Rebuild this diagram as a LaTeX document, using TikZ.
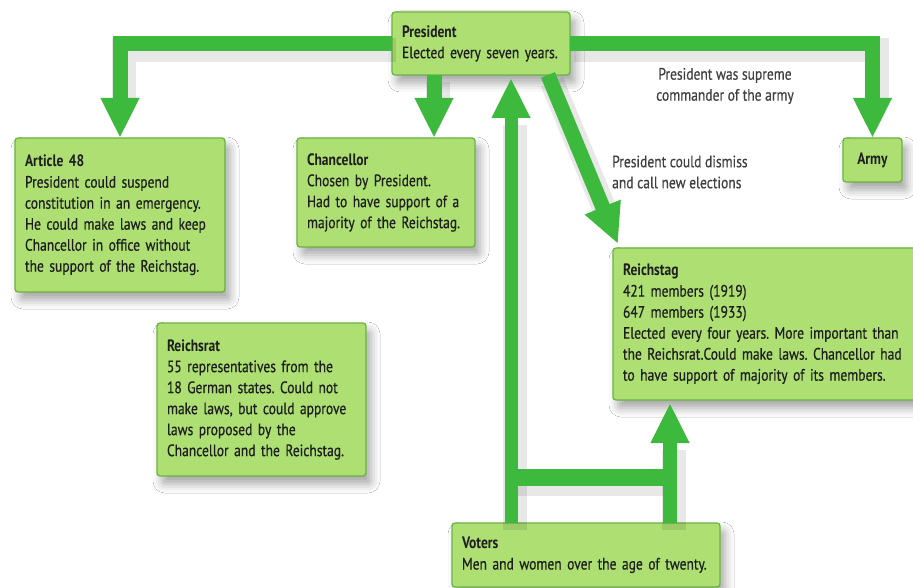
\documentclass[tikz,border=0pt]{standalone}
\usepackage{fontspec}
\setmainfont[FakeStretch=0.82, UprightFeatures={FakeBold=0.5}]{PT Sans}
\usetikzlibrary{arrows.meta,shadows.blur,calc}
\definecolor{boxfill}{HTML}{ADDF73}
\definecolor{boxline}{HTML}{6AB443}
\definecolor{arr}{HTML}{3DBA3D}
\definecolor{txt}{HTML}{1E1E1E}
\frenchspacing
\begin{document}
\begin{tikzpicture}[x=1pt,y=-1pt,
  box/.style={draw=boxline, line width=1.3pt, fill=boxfill, rounded corners=3pt,
    blur shadow={shadow xshift=5pt, shadow yshift=-8pt, shadow blur radius=9pt, shadow opacity=35},
    anchor=north west, inner xsep=10pt, inner ysep=0pt, outer sep=0pt, align=left,
    text=txt, font=\fontsize{16.5}{21}\selectfont},
  bar/.style={draw=arr, line width=15pt, line join=miter, line cap=butt},
  shad/.style={draw=black, draw opacity=0.09, line width=24pt, line join=miter, line cap=butt},
  tip/.style={-{Triangle[width=36pt,length=40pt]}},
  lbl/.style={text=txt!85, font=\fontsize{16.5}{21}\selectfont, inner sep=0pt}]
\clip (0,0) rectangle (913,588);
\fill[white] (0,0) rectangle (913,588);
% boxes
\node[box, text width=158pt, minimum height=63pt] (pres) at (392,12)
  {\textbf{President}\\Elected every seven years.};
\node[box, text width=190pt, minimum height=154pt] (art) at (15,138)
  {\textbf{Article 48}\\President could suspend\\constitution in an emergency.\\He could make laws and keep\\Chancellor in office without\\the support of the Reichstag.};
\node[box, text width=158pt, minimum height=109pt] (chan) at (297,138)
  {\textbf{Chancellor}\\Chosen by President.\\Had to have support of a\\majority of the Reichstag.};
\node[box, inner xsep=0pt, text width=59pt, align=center, minimum height=44pt] (army) at (843,138)
  {\textbf{Army}};
\node[box, text width=300pt, minimum height=152pt] (reich) at (613,248)
  {\textbf{Reichstag}\\421 members (1919)\\647 members (1933)\\Elected every four years. More important than\\the Reichsrat.Could make laws. Chancellor had\\to have support of majority of its members.};
\node[box, text width=189pt, minimum height=153pt] (rrat) at (157,323)
  {\textbf{Reichsrat}\\55 representatives from the\\18 German states. Could not\\make laws, but could approve\\laws proposed by the\\Chancellor and the Reichstag.};
\node[box, text width=248pt, minimum height=64pt] (vot) at (452,523)
  {\textbf{Voters}\\Men and women over the age of twenty.};
% labels
\node[lbl, align=center] (l1) at (725,86) {President was supreme\\commander of the army};
\node[lbl, align=left, anchor=west] (l2) at (612,172) {President could dismiss\\and call new elections};
% connector coordinates
\coordinate (cs) at ([xshift=42pt]pres.south west);
\coordinate (ce) at ([xshift=137pt]chan.north west);
\coordinate (dstart) at ($(pres.south west)+(156,0)$);
\coordinate (dend) at ($(reich.north west)+(5,-4)$);
\coordinate (vl) at ($(vot.north west)+(59,0)$);
\coordinate (vr) at ($(vot.north west)+(218,0)$);
\coordinate (hl) at ($(vot.north west)+(59,-46)$);
\coordinate (hr) at ($(vot.north west)+(218,-46)$);
\coordinate (ptip) at ($(pres.south west)+(119,3)$);
\coordinate (rtip) at ($(reich.south west)+(57,3)$);
% shadows of connectors
\begin{scope}[transform canvas={shift={(4pt,-7pt)}}]
\draw[shad] (pres.west) -| ($(art.north)+(0,-40)$);
\draw[shad] (pres.east) -| ($(army.north)+(0,-40)$);
\draw[shad] (hl) -- (hr);
\draw[shad] (vl) -- ($(ptip)+(0,40)$);
\draw[shad] (vr) -- ($(rtip)+(0,40)$);
\draw[shad] (dstart) -- ($(dstart)!0.8!(dend)$);
\draw[shad] (cs) -- ($(ce)+(0,-40)$);
\end{scope}
% connectors
\draw[bar, tip] (pres.west) -| (art.north);
\draw[bar, tip] (pres.east) -| (army.north);
\draw[bar, tip] (cs) -- (ce);
\draw[bar, tip] (dstart) -- (dend);
\draw[bar, line width=13pt, tip] (vl) -- (ptip);
\draw[bar, line width=14pt, tip] (vr) -- (rtip);
\draw[bar, line width=17pt] (hl) -- (hr);
\end{tikzpicture}
\end{document}
